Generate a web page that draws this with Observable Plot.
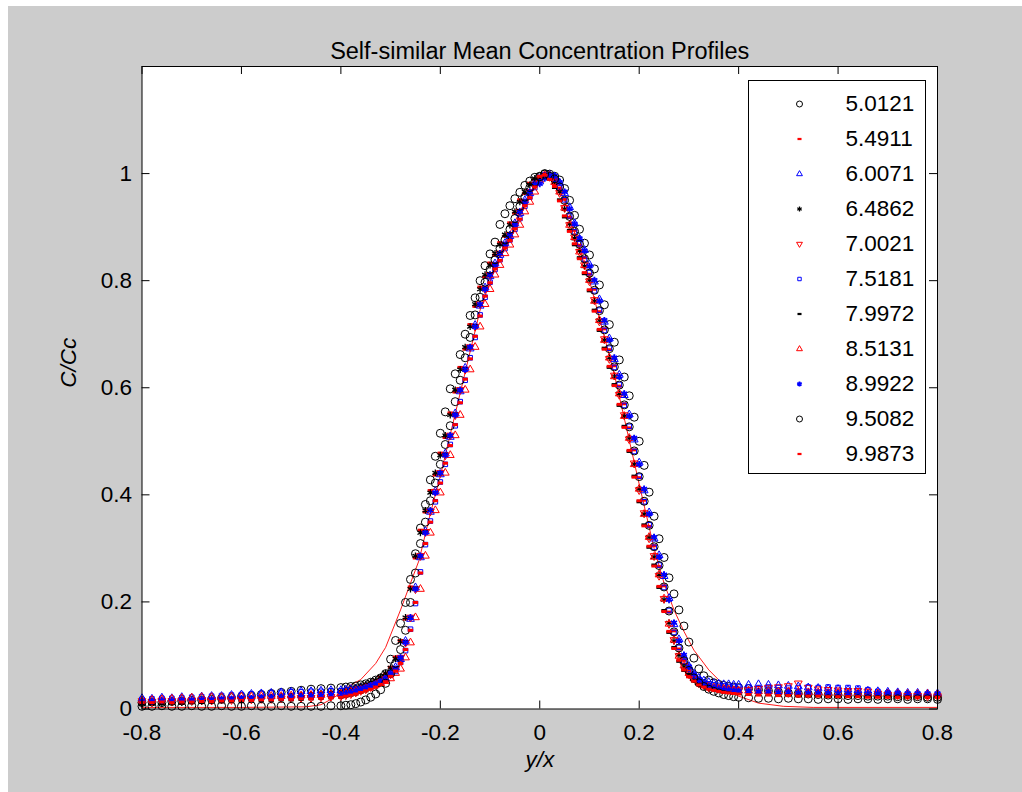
<!DOCTYPE html>
<html><head><meta charset="utf-8">
<script src="https://cdn.jsdelivr.net/npm/d3@7"></script>
<script src="https://cdn.jsdelivr.net/npm/@observablehq/plot@0.6"></script>
<style>
html,body{margin:0;padding:0;background:#fff;width:1022px;height:792px;overflow:hidden;font-family:"Liberation Sans",Arial,sans-serif;}
#fig{position:absolute;left:8px;top:6px;width:1014px;height:786px;background:#cccccc;}
#chart{position:absolute;left:0;top:0;}
#legend{position:absolute;left:740px;top:74px;width:176px;height:392px;border:1px solid #000;background:#fff;}
</style></head>
<body><div id="fig"><div id="chart"></div><div id="legend"></div></div>
<script>
// ---- data ----
const title = "Self-similar Mean Concentration Profiles";
const xLabel = "y/x";
const yLabel = "C/Cc";
const xTicks = [-0.8,-0.6,-0.4,-0.2,0,0.2,0.4,0.6,0.8];
const xTickLabels = ["-0.8","-0.6","-0.4","-0.2","0","0.2","0.4","0.6","0.8"];
const yTicks = [0,0.2,0.4,0.6,0.8,1];
const yTickLabels = ["0","0.2","0.4","0.6","0.8","1"];
const seriesLabels = ["5.0121","5.4911","6.0071","6.4862","7.0021","7.5181","7.9972","8.5131","8.9922","9.5082","9.9873"];

// shared y/x positions
const yx = [
-0.80,-0.78,-0.76,-0.74,-0.72,-0.70,-0.68,-0.66,-0.64,-0.62,-0.60,-0.58,-0.56,-0.54,-0.52,-0.50,-0.48,-0.46,-0.44,-0.42,
-0.40,-0.39,-0.38,-0.37,-0.36,-0.35,-0.34,-0.33,-0.32,-0.31,
-0.30,-0.29,-0.28,-0.27,-0.26,-0.25,-0.24,-0.23,-0.22,-0.21,
-0.20,-0.19,-0.18,-0.17,-0.16,-0.15,-0.14,-0.13,-0.12,-0.11,
-0.10,-0.09,-0.08,-0.07,-0.06,-0.05,-0.04,-0.03,-0.02,-0.01,
0.00,0.01,0.02,0.03,0.04,0.05,0.06,0.07,0.08,0.09,
0.10,0.11,0.12,0.13,0.14,0.15,0.16,0.17,0.18,0.19,
0.20,0.21,0.22,0.23,0.24,0.25,0.26,0.27,0.28,0.29,
0.30,0.31,0.32,0.33,0.34,0.35,0.36,0.37,0.38,0.39,0.40,
0.42,0.44,0.46,0.48,0.50,0.52,0.54,0.56,0.58,0.60,0.62,0.64,0.66,0.68,0.70,0.72,0.74,0.76,0.78,0.80];

const c5_0121 = [
0.012,0.013,0.012,0.014,0.015,0.016,0.017,0.018,0.020,0.021,0.023,0.025,0.027,0.029,0.031,0.033,0.035,0.037,0.038,0.039,
0.040,0.041,0.042,0.043,0.045,0.047,0.050,0.054,0.058,0.066,
0.093,0.128,0.160,0.199,0.242,0.290,0.338,0.382,0.428,0.472,
0.515,0.555,0.598,0.626,0.662,0.700,0.735,0.768,0.800,0.828,
0.850,0.872,0.905,0.925,0.940,0.953,0.965,0.978,0.986,0.993,
0.995,1.000,0.999,0.995,0.988,0.972,0.950,0.922,0.896,0.870,
0.848,0.822,0.792,0.755,0.718,0.685,0.652,0.620,0.585,0.545,
0.500,0.455,0.405,0.360,0.318,0.283,0.245,0.215,0.185,0.155,
0.125,0.095,0.075,0.062,0.054,0.049,0.046,0.044,0.042,0.041,0.040,
0.038,0.036,0.034,0.032,0.030,0.029,0.028,0.027,0.026,0.026,0.025,0.025,0.024,0.024,0.024,0.023,0.023,0.023,0.022,0.022];

const c5_4911 = [
0.013,0.014,0.013,0.015,0.016,0.016,0.018,0.019,0.019,0.021,0.022,0.022,0.024,0.025,0.026,0.027,0.028,0.029,0.030,0.031,
0.031,0.034,0.037,0.038,0.042,0.046,0.048,0.053,0.059,0.065,
0.078,0.097,0.128,0.168,0.228,0.282,0.334,0.368,0.408,0.437,
0.478,0.507,0.553,0.592,0.638,0.672,0.718,0.752,0.788,0.807,
0.833,0.848,0.871,0.883,0.908,0.926,0.951,0.963,0.982,0.988,
0.994,0.998,0.994,0.991,0.973,0.952,0.918,0.894,0.866,0.843,
0.812,0.784,0.742,0.710,0.671,0.641,0.603,0.570,0.525,0.484,
0.432,0.390,0.341,0.305,0.266,0.230,0.181,0.146,0.112,0.091,
0.074,0.060,0.054,0.046,0.043,0.041,0.038,0.037,0.035,0.034,0.032,
0.031,0.030,0.029,0.028,0.027,0.027,0.026,0.025,0.025,0.024,0.024,0.024,0.023,0.023,0.023,0.022,0.022,0.022,0.022,0.022];

const c6_0071 = [
0.020,0.019,0.021,0.020,0.022,0.021,0.023,0.024,0.024,0.026,0.027,0.028,0.029,0.030,0.031,0.032,0.033,0.033,0.034,0.035,
0.035,0.036,0.037,0.038,0.040,0.042,0.044,0.047,0.051,0.057,
0.067,0.078,0.093,0.127,0.168,0.227,0.283,0.332,0.368,0.407,
0.438,0.477,0.508,0.552,0.593,0.637,0.673,0.717,0.753,0.787,
0.808,0.832,0.848,0.870,0.883,0.907,0.926,0.950,0.963,0.982,
0.985,0.993,0.997,0.994,0.983,0.963,0.937,0.907,0.878,0.857,
0.830,0.798,0.765,0.723,0.692,0.653,0.624,0.586,0.550,0.503,
0.460,0.408,0.367,0.318,0.287,0.248,0.207,0.158,0.130,0.098,
0.080,0.066,0.058,0.053,0.050,0.048,0.047,0.046,0.046,0.045,0.045,
0.045,0.046,0.045,0.044,0.043,0.042,0.040,0.039,0.038,0.037,0.036,0.035,0.034,0.033,0.032,0.031,0.030,0.030,0.029,0.029];

const c6_4862 = [
0.010,0.011,0.010,0.012,0.012,0.013,0.014,0.015,0.016,0.017,0.018,0.019,0.020,0.022,0.023,0.024,0.026,0.027,0.029,0.031,
0.033,0.035,0.037,0.040,0.043,0.046,0.050,0.054,0.060,0.067,
0.077,0.094,0.126,0.171,0.224,0.286,0.329,0.371,0.404,0.441,
0.474,0.511,0.549,0.596,0.634,0.676,0.714,0.756,0.784,0.811,
0.829,0.851,0.867,0.886,0.904,0.929,0.947,0.966,0.979,0.991,
0.991,0.997,0.996,0.984,0.966,0.934,0.906,0.879,0.856,0.827,
0.801,0.762,0.726,0.689,0.656,0.621,0.589,0.547,0.506,0.457,
0.411,0.364,0.321,0.284,0.251,0.204,0.161,0.127,0.101,0.079,
0.065,0.055,0.048,0.043,0.040,0.038,0.037,0.036,0.035,0.035,0.034,
0.034,0.033,0.032,0.031,0.031,0.030,0.029,0.029,0.028,0.028,0.027,0.027,0.027,0.026,0.026,0.026,0.025,0.025,0.025,0.025];

const c7_0021 = [
0.015,0.014,0.016,0.015,0.016,0.016,0.017,0.016,0.018,0.017,0.018,0.018,0.019,0.019,0.020,0.020,0.021,0.021,0.022,0.023,
0.024,0.026,0.028,0.031,0.034,0.037,0.041,0.045,0.050,0.056,
0.065,0.075,0.096,0.124,0.171,0.224,0.286,0.331,0.369,0.406,
0.441,0.474,0.511,0.549,0.596,0.634,0.676,0.714,0.756,0.784,
0.811,0.829,0.851,0.867,0.886,0.904,0.929,0.947,0.966,0.979,
0.989,0.996,0.994,0.986,0.964,0.936,0.904,0.881,0.854,0.829,
0.799,0.764,0.724,0.691,0.654,0.623,0.587,0.549,0.504,0.459,
0.409,0.366,0.319,0.286,0.249,0.206,0.159,0.129,0.099,0.081,
0.065,0.057,0.048,0.045,0.040,0.040,0.038,0.037,0.036,0.036,0.035,
0.036,0.038,0.040,0.041,0.043,0.048,0.040,0.037,0.036,0.035,0.034,0.034,0.033,0.029,0.027,0.026,0.025,0.025,0.024,0.024];

const c7_5181 = [
0.018,0.019,0.020,0.020,0.021,0.022,0.023,0.024,0.025,0.026,0.027,0.028,0.029,0.030,0.031,0.032,0.032,0.033,0.033,0.034,
0.034,0.035,0.036,0.037,0.038,0.040,0.043,0.046,0.050,0.055,
0.063,0.070,0.087,0.109,0.149,0.197,0.256,0.307,0.351,0.387,
0.424,0.457,0.494,0.529,0.574,0.614,0.656,0.694,0.736,0.769,
0.797,0.821,0.839,0.860,0.876,0.896,0.916,0.939,0.956,0.974,
0.993,0.998,0.995,0.990,0.974,0.951,0.921,0.891,0.869,0.840,
0.815,0.781,0.745,0.707,0.674,0.638,0.606,0.567,0.528,0.481,
0.435,0.387,0.344,0.302,0.269,0.227,0.184,0.143,0.115,0.089,
0.074,0.062,0.055,0.050,0.047,0.045,0.044,0.043,0.042,0.042,0.041,
0.041,0.040,0.041,0.040,0.039,0.040,0.041,0.040,0.041,0.040,0.040,0.039,0.036,0.033,0.030,0.029,0.028,0.028,0.027,0.027];

const c7_9972 = [
0.009,0.010,0.010,0.011,0.011,0.012,0.012,0.013,0.013,0.014,0.014,0.015,0.015,0.016,0.017,0.017,0.018,0.019,0.020,0.021,
0.022,0.024,0.026,0.028,0.031,0.034,0.038,0.043,0.048,0.054,
0.064,0.077,0.094,0.126,0.169,0.226,0.284,0.331,0.371,0.404,
0.439,0.476,0.509,0.551,0.594,0.636,0.674,0.716,0.754,0.786,
0.809,0.831,0.849,0.869,0.884,0.906,0.927,0.949,0.964,0.981,
0.993,0.996,0.991,0.974,0.951,0.919,0.894,0.867,0.843,0.813,
0.781,0.745,0.707,0.674,0.638,0.606,0.567,0.528,0.481,0.435,
0.387,0.344,0.302,0.269,0.227,0.184,0.143,0.115,0.089,0.072,
0.061,0.052,0.046,0.042,0.039,0.036,0.034,0.032,0.031,0.030,0.029,
0.029,0.028,0.028,0.027,0.027,0.027,0.026,0.026,0.026,0.025,0.025,0.025,0.025,0.025,0.024,0.024,0.024,0.024,0.024,0.024];

const c8_5131 = [
0.016,0.017,0.018,0.019,0.020,0.021,0.022,0.022,0.022,0.023,0.023,0.023,0.024,0.024,0.024,0.025,0.025,0.026,0.026,0.027,
0.028,0.030,0.032,0.034,0.036,0.039,0.042,0.045,0.048,0.052,
0.057,0.067,0.075,0.096,0.124,0.171,0.224,0.286,0.329,0.371,
0.404,0.441,0.474,0.511,0.549,0.596,0.634,0.676,0.714,0.756,
0.784,0.811,0.829,0.851,0.867,0.886,0.904,0.929,0.947,0.966,
0.988,0.997,0.996,0.984,0.966,0.936,0.904,0.881,0.854,0.829,
0.801,0.762,0.726,0.689,0.656,0.621,0.589,0.547,0.506,0.457,
0.411,0.364,0.321,0.284,0.251,0.206,0.159,0.129,0.099,0.081,
0.067,0.057,0.050,0.045,0.042,0.040,0.038,0.037,0.036,0.035,0.034,
0.034,0.033,0.033,0.032,0.032,0.031,0.031,0.031,0.030,0.030,0.030,0.030,0.029,0.029,0.029,0.029,0.028,0.028,0.028,0.028];

const c8_9922 = [
0.015,0.015,0.016,0.016,0.017,0.017,0.018,0.018,0.019,0.019,0.020,0.020,0.021,0.021,0.022,0.022,0.023,0.024,0.025,0.026,
0.027,0.029,0.031,0.034,0.037,0.040,0.044,0.047,0.051,0.057,
0.067,0.075,0.096,0.124,0.171,0.224,0.286,0.329,0.371,0.404,
0.441,0.474,0.511,0.549,0.596,0.634,0.676,0.714,0.756,0.784,
0.811,0.829,0.851,0.867,0.886,0.904,0.929,0.947,0.966,0.979,
0.981,0.991,0.997,0.996,0.984,0.966,0.934,0.906,0.879,0.856,
0.827,0.801,0.762,0.726,0.689,0.656,0.621,0.589,0.547,0.506,
0.457,0.411,0.364,0.321,0.284,0.251,0.204,0.161,0.127,0.101,
0.079,0.065,0.055,0.048,0.043,0.040,0.038,0.036,0.035,0.034,0.033,
0.033,0.032,0.032,0.031,0.031,0.030,0.030,0.030,0.030,0.029,0.029,0.029,0.029,0.029,0.030,0.030,0.029,0.029,0.029,0.029];

const c9_5082 = [
0.005,0.005,0.006,0.005,0.005,0.006,0.005,0.005,0.006,0.005,0.005,0.006,0.005,0.005,0.006,0.005,0.005,0.005,0.005,0.006,
0.006,0.007,0.008,0.010,0.013,0.017,0.022,0.028,0.036,0.048,
0.066,0.085,0.111,0.147,0.199,0.254,0.309,0.349,0.389,0.422,
0.457,0.494,0.529,0.574,0.614,0.656,0.694,0.736,0.769,0.797,
0.821,0.839,0.860,0.876,0.896,0.916,0.939,0.956,0.974,0.984,
0.994,0.999,0.995,0.990,0.975,0.950,0.920,0.892,0.868,0.841,
0.814,0.782,0.744,0.708,0.673,0.639,0.605,0.568,0.527,0.482,
0.434,0.388,0.343,0.303,0.268,0.228,0.183,0.144,0.114,0.090,
0.072,0.058,0.049,0.042,0.037,0.033,0.030,0.027,0.025,0.023,0.022,
0.021,0.020,0.020,0.019,0.020,0.019,0.019,0.018,0.019,0.019,0.018,0.019,0.019,0.018,0.019,0.019,0.018,0.019,0.019,0.018];

const c9_9873 = [
0.012,0.012,0.013,0.012,0.013,0.013,0.014,0.014,0.015,0.015,0.016,0.016,0.017,0.017,0.018,0.018,0.019,0.019,0.020,0.021,
0.022,0.024,0.026,0.028,0.031,0.034,0.037,0.041,0.046,0.051,
0.061,0.071,0.085,0.111,0.147,0.199,0.254,0.309,0.349,0.389,
0.422,0.459,0.492,0.531,0.572,0.616,0.654,0.696,0.734,0.771,
0.796,0.822,0.838,0.861,0.875,0.897,0.915,0.940,0.955,0.975,
0.995,0.997,0.989,0.976,0.949,0.921,0.892,0.869,0.841,0.815,
0.783,0.743,0.709,0.672,0.640,0.604,0.569,0.526,0.483,0.433,
0.389,0.342,0.304,0.267,0.229,0.182,0.145,0.113,0.091,0.073,
0.060,0.052,0.045,0.041,0.037,0.035,0.033,0.031,0.030,0.029,0.028,
0.027,0.026,0.026,0.025,0.025,0.024,0.024,0.024,0.023,0.023,0.023,0.023,0.022,0.022,0.022,0.022,0.022,0.022,0.022,0.022];

// thin red reference curve
const fitX = [-0.80,-0.60,-0.47,-0.44,-0.42,-0.40,-0.385,-0.36,-0.33,-0.31,-0.28,-0.26,-0.243,-0.22,-0.20,-0.16,-0.12,-0.08,-0.04,0.00,0.02,0.05,0.10,0.15,0.20,0.23,0.25,0.27,0.29,0.31,0.34,0.37,0.40,0.44,0.49,0.55,0.80];
const fitY = [0.003,0.003,0.004,0.008,0.018,0.030,0.042,0.055,0.085,0.115,0.185,0.235,0.277,0.365,0.435,0.590,0.745,0.850,0.930,0.988,0.997,0.950,0.800,0.625,0.420,0.300,0.235,0.185,0.145,0.110,0.073,0.045,0.024,0.011,0.005,0.003,0.003];

// ---- styling ----
const dash = {draw(ctx, size){ const r = Math.sqrt(size/Math.PI); ctx.rect(-r, -r*0.55, 2*r, 1.1*r); }};
const triDown = {draw(ctx, size){ const y = -Math.sqrt(size/(3*Math.sqrt(3))); ctx.moveTo(0,-2*y); ctx.lineTo(-Math.sqrt(3)*y, y); ctx.lineTo(Math.sqrt(3)*y, y); ctx.closePath(); }};
const allValues = [c5_0121,c5_4911,c6_0071,c6_4862,c7_0021,c7_5181,c7_9972,c8_5131,c8_9922,c9_5082,c9_9873];
const styles = [
  {color:"#000000", symbol:"circle",  r:4.0, filled:false, sw:1},
  {color:"#ff0000", symbol:dash,      r:2.7, filled:true,  sw:1},
  {color:"#0000ff", symbol:"triangle",r:2.9, filled:false, sw:1},
  {color:"#000000", symbol:"asterisk",r:3.2, filled:false, sw:1.3},
  {color:"#ff0000", symbol:triDown,   r:2.9, filled:false, sw:1},
  {color:"#0000ff", symbol:"square",  r:2.6, filled:false, sw:1},
  {color:"#000000", symbol:dash,      r:2.7, filled:true,  sw:1},
  {color:"#ff0000", symbol:"triangle",r:2.9, filled:false, sw:1},
  {color:"#0000ff", symbol:"asterisk",r:3.2, filled:false, sw:1.8},
  {color:"#000000", symbol:"circle",  r:4.0, filled:false, sw:1},
  {color:"#ff0000", symbol:dash,      r:2.7, filled:true,  sw:1}
];
const series = seriesLabels.map((label,i)=>({label, values: allValues[i], ...styles[i]}));

const W = 1014, H = 786, mL = 133.5, mT = 60, mR = 85, mB = 83.5;
const fw = W - mL - mR, fh = H - mT - mB, tk = 8;
const font = "Liberation Sans, Arial, sans-serif";

const dotMark = (s, data, opts) => Plot.dot(data, {
  symbol: () => s.symbol, r: s.r,
  fill: s.filled ? s.color : "none",
  stroke: s.filled ? "none" : s.color,
  strokeWidth: s.sw, ...opts});

const marks = [
  Plot.frame({fill:"white"}),
  Plot.line(fitX.map((x,i)=>({x, y: fitY[i]})), {x:"x", y:"y", stroke:"#ff0000", strokeWidth:0.9}),
  ...series.map(s => dotMark(s, yx.map((x,j)=>({x, y: s.values[j]})), {x:"x", y:"y"})),
  Plot.tickX(xTicks, {x:d=>d, insetTop: fh - tk, stroke:"black"}),
  Plot.tickX(xTicks, {x:d=>d, insetBottom: fh - tk, stroke:"black"}),
  Plot.tickY(yTicks, {y:d=>d, insetRight: fw - tk, stroke:"black"}),
  Plot.tickY(yTicks, {y:d=>d, insetLeft: fw - tk, stroke:"black"}),
  Plot.frame({stroke:"black", strokeWidth:1}),
  Plot.axisX(xTicks, {tickSize:0, tickPadding:15, fontSize:22.5, tickFormat: d => xTickLabels[xTicks.indexOf(d)], label:null}),
  Plot.axisY(yTicks, {tickSize:0, tickPadding:10, fontSize:22.5, tickFormat: d => yTickLabels[yTicks.indexOf(d)], label:null}),
  Plot.text([title], {text:d=>d, frameAnchor:"top", dy:-24, fontSize:23.5}),
  Plot.text([xLabel], {text:d=>d, frameAnchor:"bottom", dy:58, fontSize:22.5, fontStyle:"italic"}),
  Plot.text([yLabel], {text:d=>d, frameAnchor:"left", dx:-73, rotate:-90, fontSize:22.5, fontStyle:"italic"})
];

const chart = Plot.plot({
  width: W, height: H, marginLeft: mL, marginTop: mT, marginRight: mR, marginBottom: mB,
  x: {domain:[-0.8,0.8], label:null},
  y: {domain:[0,1.2], label:null},
  style: {background:"#cccccc", fontFamily: font, color:"black", overflow:"visible"},
  marks
});
document.getElementById("chart").appendChild(chart);

const legend = Plot.plot({
  width: 176, height: 392, marginLeft:0, marginRight:0, marginTop:3.4, marginBottom:0.3,
  x: {axis:null, domain:[0,1]},
  y: {type:"band", domain: seriesLabels, axis:null, padding:0},
  style: {background:"white", fontFamily: font, color:"black"},
  marks: [
    ...series.map(s => dotMark(s, [s], {y:"label", frameAnchor:"left", dx:50, r: s.r*0.75})),
    Plot.text(series, {y:"label", text:"label", frameAnchor:"left", dx:96, textAnchor:"start", fontSize:22.5})
  ]
});
document.getElementById("legend").appendChild(legend);
</script>
</body></html>
